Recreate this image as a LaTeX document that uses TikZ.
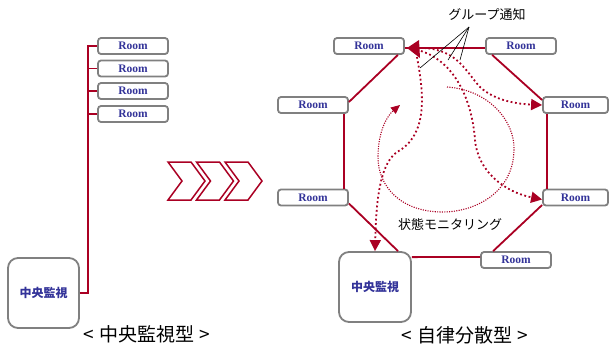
\documentclass[tikz,border=0pt]{standalone}
\usepackage{fontspec}
\setmainfont{Liberation Serif}
\newfontfamily\cjk{Noto Sans CJK JP}
\usetikzlibrary{arrows.meta}
\definecolor{redc}{RGB}{170,0,35}
\definecolor{bluet}{RGB}{51,51,153}
\definecolor{grayb}{RGB}{128,128,128}
\tikzset{
  room/.style={draw=grayb, line width=1.8bp, rounded corners=3bp, fill=white,
    minimum width=70bp, minimum height=16bp, inner sep=0pt, text=bluet,
    font=\fontsize{11.5bp}{12bp}\selectfont\bfseries},
  hub/.style={draw=grayb, line width=1.8bp, rounded corners=10bp, fill=white,
    minimum width=71bp, minimum height=70bp, inner sep=0pt, text=bluet,
    font=\cjk\bfseries\fontsize{12bp}{14bp}\selectfont},
  link/.style={draw=redc, line width=1.8bp},
  notif/.style={draw=redc, line width=1.8bp, dash pattern=on 1.8bp off 2.6bp,
    -{Triangle[length=11bp,width=11bp]}},
  monit/.style={draw=redc, line width=1.1bp, dash pattern=on 1.1bp off 1.3bp,
    -{Triangle[length=9bp,width=8bp]}},
  chev/.style={draw=redc, line width=1.5bp, fill=white, line join=miter},
  lbl/.style={font=\cjk\fontsize{13bp}{15bp}\selectfont, inner sep=0pt},
  title/.style={font=\cjk\fontsize{19bp}{21bp}\selectfont, inner sep=0pt},
}
\begin{document}
\begin{tikzpicture}[x=1bp, y=-1bp]
\useasboundingbox (0,0) rectangle (610,349);

% ---------- left: central monitoring ----------
\node[room] (L1) at (133,46) {Room};
\node[room] (L2) at (133,68.5) {Room};
\node[room] (L3) at (133,91) {Room};
\node[room] (L4) at (133,114) {Room};
\node[hub] (lc) at (43.5,293) {中央監視};
\draw[link] (lc.east) -| ([xshift=-9bp]L1.west) -- (L1.west);
\draw[link] (L2.west) -- ++(-9,0);
\draw[link] (L3.west) -- ++(-9,0);
\draw[link] (L4.west) -- ++(-9,0);
\node[title] (t1) at (147,334) {<\hspace{5bp}中央監視型\hspace{5bp}>};

% ---------- chevrons ----------
\foreach \i in {0,1,2}{
  \pgfmathsetmacro{\xo}{168+28.5*\i}
  \draw[chev] (\xo,162) -- (\xo+23,162) -- (\xo+37,181) -- (\xo+23,200)
     -- (\xo,200) -- (\xo+14,181) -- cycle;
}

% ---------- right: autonomous distributed ----------
\node[room] (tl) at (369,46) {Room};
\node[room] (tr) at (521,46) {Room};
\node[room, minimum width=65bp] (ru) at (575.5,105) {Room};
\node[room] (lu) at (313,105) {Room};
\node[room] (ll) at (313,197.5) {Room};
\node[room, minimum width=65bp] (rl) at (575.5,197.5) {Room};
\node[room] (br) at (516,260) {Room};
\node[hub, minimum width=72bp] (cr) at (375,287) {中央監視};

\draw[link] ([yshift=-2bp]tl.east) -- ([yshift=-2bp]tr.west);
\draw[link] ([xshift=-7bp]tl.south east) -- ([yshift=3bp]lu.east);
\draw[link] ([xshift=7bp]tr.south west) -- ([yshift=5bp]ru.west);
\draw[link] ([xshift=-5bp]lu.south east) -- ([xshift=-5bp]ll.north east);
\draw[link] ([xshift=5bp]ru.south west) -- ([xshift=5bp]rl.north west);
\draw[link] ([yshift=-6bp]ll.east) -- ([xshift=23bp]cr.north);
\draw[link] ([yshift=-6bp]cr.north east) -- ([yshift=3bp]br.west);
\draw[link] ([yshift=-7.5bp]rl.west) -- ([xshift=13bp]br.north west);

% dotted notification / monitoring curves
\coordinate (a0) at (417,57);
\coordinate (b0) at (421,51);
\coordinate (d0) at (424,48);
\coordinate (e0) at (447,87);
\draw[notif] (a0) .. controls (424,95) and (428,135) .. (397,152)
   .. controls (378,165) and (376,210) .. (cr.north);
\draw[notif] (b0) .. controls (455,62) and (472,100) .. (475,140)
   .. controls (478,172) and (505,192) .. ([yshift=-2bp]rl.west);
\draw[notif] (d0) .. controls (458,50) and (466,72) .. (480,87)
   .. controls (495,101) and (518,104) .. (ru.west);
\coordinate (e1) at (400,105);
\draw[monit] (e0) .. controls (490,90) and (515,122) .. (514,150)
   .. controls (513,195) and (472,212) .. (443,212)
   .. controls (400,212) and (378,186) .. (378,157)
   .. controls (378,130) and (388,115) .. (e1);
\fill[redc] (407,48) -- (419,40) -- (420,58) -- cycle;

% labels
\node[lbl] (gl) at (487,15) {グループ通知};
\coordinate (gn) at (469,27);
\draw[black, line width=0.6bp] (gn) -- (420,68);
\draw[black, line width=0.6bp] (gn) -- (448,60);
\draw[black, line width=0.6bp] (gn) -- (460,60);
\node[lbl] (ml) at (450,225) {状態モニタリング};
\node[title] (t2) at (465,335) {<\hspace{5bp}自律分散型\hspace{5bp}>};
\end{tikzpicture}
\end{document}
